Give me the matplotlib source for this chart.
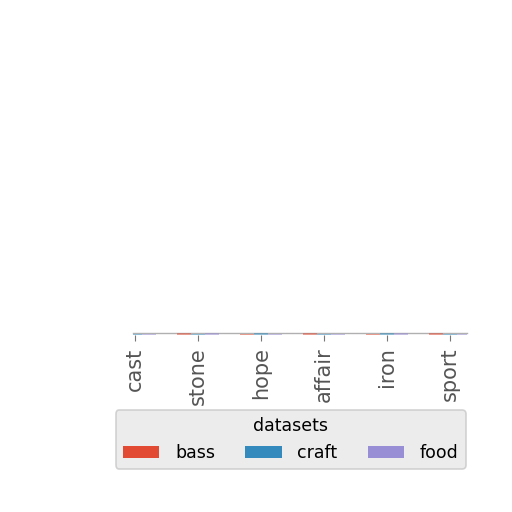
import matplotlib
matplotlib.use("Agg")
import matplotlib.pyplot as plt
import numpy as np

plt.style.use("ggplot")

categories = ["cast", "stone", "hope", "affair", "iron", "sport"]
bass = [3, 7, 5, 6, 4, 8]
craft = [5, 4, 6, 3, 7, 5]
food = [4, 6, 3, 5, 6, 4]
series_names = ["bass", "craft", "food"]

fig = plt.figure(figsize=(5.12, 5.12), dpi=100)
ax = fig.add_axes([0.26, 0.346, 0.652, 0.004])

x = np.arange(len(categories))
w = 0.22
colors = ["#E24A33", "#348ABD", "#988ED5"]
for i, (vals, name) in enumerate(zip([bass, craft, food], series_names)):
    ax.bar(x + (i - 1) * w, vals, width=w, color=colors[i], label=name,
           edgecolor="none", linewidth=0, zorder=3, alpha=0.5)

ax.set_xlim(-0.03, 5.27)
ax.set_ylim(0, 8)
ax.set_facecolor("white")
ax.grid(False)
ax.set_yticks([])
ax.set_xticks(x)
ax.set_xticklabels(categories, rotation=90, fontsize=15, color="#555555")
ax.tick_params(axis="x", length=4, width=0.8, color="#777777", pad=5)
for name, s in ax.spines.items():
    s.set_visible(name == "top")
    s.set_color("#b0b0b0")
    s.set_linewidth(1.0)
    s.set_zorder(2)

leg = fig.legend(title="datasets", loc="upper center", ncol=3,
                 bbox_to_anchor=(0.568, 0.216), fontsize=12.5, title_fontsize=12.5,
                 frameon=True, fancybox=True, shadow=False,
                 handlelength=2.1, columnspacing=1.75, handletextpad=0.9)
for p in leg.get_patches():
    p.set_alpha(1)
leg.get_frame().set_facecolor("#E8E8E8")
leg.get_frame().set_edgecolor("#C8C8C8")
leg.get_frame().set_linewidth(1.2)

fig.savefig("out.png", dpi=100, facecolor="white")
